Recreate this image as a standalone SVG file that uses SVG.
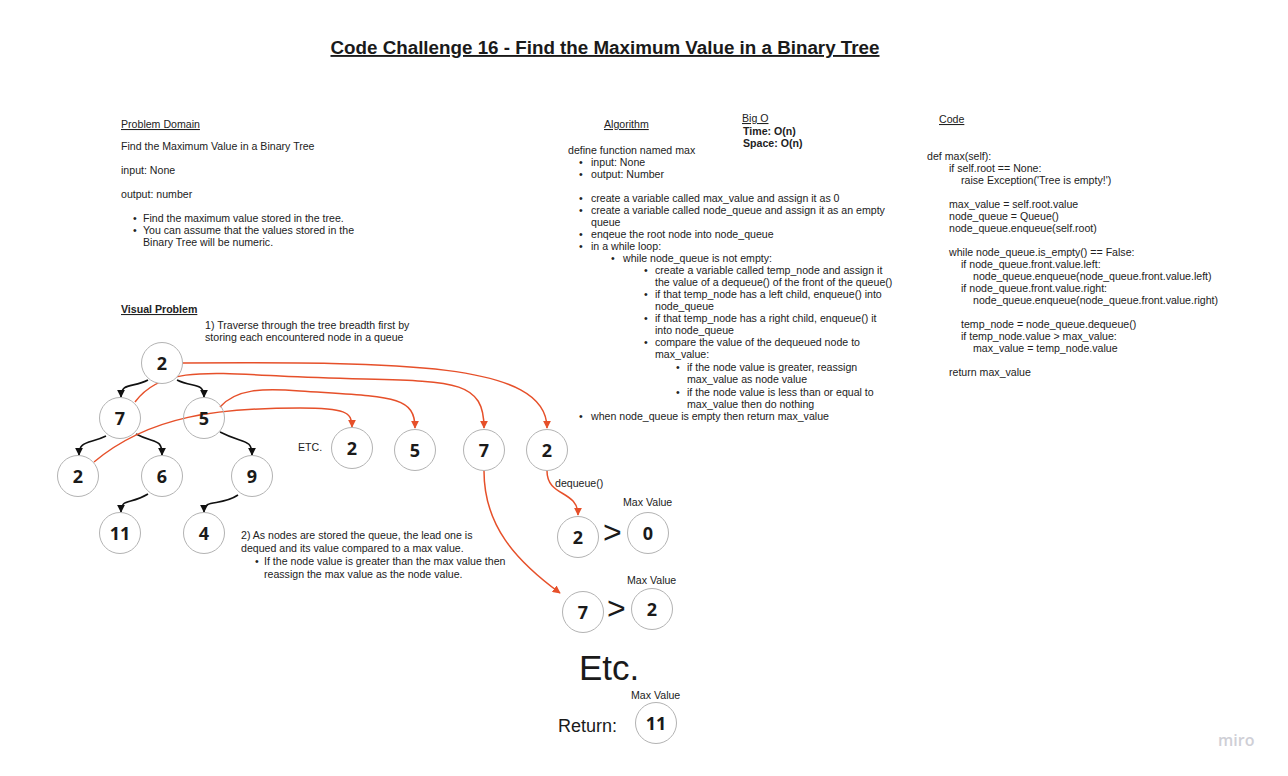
<svg xmlns="http://www.w3.org/2000/svg" width="1288" height="776" viewBox="0 0 1288 776">
<style>
  .t { font-family: "Liberation Sans", Arial, sans-serif; font-size: 10.6px; fill: #222; }
  .h { text-decoration: underline; }
  .b { font-weight: bold; }
  .title { font-family: "Liberation Sans", Arial, sans-serif; font-size: 18.8px; font-weight: bold; fill: #1a1a1a; text-decoration: underline; }
  .nc { fill: #fff; stroke: #b3b3b3; stroke-width: 1; }
  .nt { font-family: "Open Sans", "DejaVu Sans", sans-serif; font-size: 18px; font-weight: bold; fill: #1a1a1a; text-anchor: middle; }
  .red { fill: none; stroke: #e6502a; stroke-width: 1.5; marker-end: url(#ar); }
  .blk { fill: none; stroke: #111; stroke-width: 1.6; marker-end: url(#ab); }
  .big { font-family: "Liberation Sans", Arial, sans-serif; fill: #1a1a1a; }
</style>
<defs>
  <marker id="ar" viewBox="0 0 10 10" refX="9" refY="5" markerWidth="8" markerHeight="8" markerUnits="userSpaceOnUse" orient="auto">
    <path d="M0,0 L10,5 L0,10 z" fill="#e6502a"/>
  </marker>
  <marker id="ab" viewBox="0 0 10 10" refX="9" refY="5" markerWidth="8" markerHeight="8" markerUnits="userSpaceOnUse" orient="auto">
    <path d="M0,0 L10,5 L0,10 z" fill="#111"/>
  </marker>
</defs>
<rect width="1288" height="776" fill="#fff"/>

<text class="title" x="605" y="54" text-anchor="middle">Code Challenge 16 - Find the Maximum Value in a Binary Tree</text>

<g id="problem-domain">
  <text class="t h" x="121" y="128">Problem Domain</text>
  <text class="t" x="121" y="150">Find the Maximum Value in a Binary Tree</text>
  <text class="t" x="121" y="174">input: None</text>
  <text class="t" x="121" y="198">output: number</text>
  <text class="t" x="133" y="222">•</text>
  <text class="t" x="143" y="222">Find the maximum value stored in the tree.</text>
  <text class="t" x="133" y="234">•</text>
  <text class="t" x="143" y="234">You can assume that the values stored in the</text>
  <text class="t" x="143" y="246">Binary Tree will be numeric.</text>
</g>

<g id="algorithm">
  <text class="t h" x="604" y="128">Algorithm</text>
  <text class="t" x="568" y="154">define function named max</text>
  <text class="t" x="579" y="166">•</text><text class="t" x="591" y="166">input: None</text>
  <text class="t" x="579" y="178">•</text><text class="t" x="591" y="178">output: Number</text>
  <text class="t" x="579" y="202">•</text><text class="t" x="591" y="202">create a variable called max_value and assign it as 0</text>
  <text class="t" x="579" y="214">•</text><text class="t" x="591" y="214">create a variable called node_queue and assign it as an empty</text>
  <text class="t" x="591" y="226">queue</text>
  <text class="t" x="579" y="238">•</text><text class="t" x="591" y="238">enqeue the root node into node_queue</text>
  <text class="t" x="579" y="250">•</text><text class="t" x="591" y="250">in a while loop:</text>
  <text class="t" x="611" y="262">•</text><text class="t" x="623" y="262">while node_queue is not empty:</text>
  <text class="t" x="644" y="274">•</text><text class="t" x="655" y="274">create a variable called temp_node and assign it</text>
  <text class="t" x="655" y="286">the value of a dequeue() of the front of the queue()</text>
  <text class="t" x="644" y="298">•</text><text class="t" x="655" y="298">if that temp_node has a left child, enqueue() into</text>
  <text class="t" x="655" y="310">node_queue</text>
  <text class="t" x="644" y="322">•</text><text class="t" x="655" y="322">if that temp_node has a right child, enqueue() it</text>
  <text class="t" x="655" y="334">into node_queue</text>
  <text class="t" x="644" y="346">•</text><text class="t" x="655" y="346">compare the value of the dequeued node to</text>
  <text class="t" x="655" y="358">max_value:</text>
  <text class="t" x="676" y="371">•</text><text class="t" x="687" y="371">if the node value is greater, reassign</text>
  <text class="t" x="687" y="383">max_value as node value</text>
  <text class="t" x="676" y="396">•</text><text class="t" x="687" y="396">if the node value is less than or equal to</text>
  <text class="t" x="687" y="408">max_value then do nothing</text>
  <text class="t" x="579" y="420">•</text><text class="t" x="591" y="420">when node_queue is empty then return max_value</text>
</g>

<g id="big-o">
  <text class="t h" x="742" y="122">Big O</text>
  <text class="t b" x="743" y="135">Time: O(n)</text>
  <text class="t b" x="743" y="147">Space: O(n)</text>
</g>

<g id="code">
  <text class="t h" x="939" y="123">Code</text>
  <text class="t" x="927" y="160">def max(self):</text>
  <text class="t" x="949" y="172">if self.root == None:</text>
  <text class="t" x="961" y="184">raise Exception('Tree is empty!')</text>
  <text class="t" x="949" y="208">max_value = self.root.value</text>
  <text class="t" x="949" y="220">node_queue = Queue()</text>
  <text class="t" x="949" y="232">node_queue.enqueue(self.root)</text>
  <text class="t" x="949" y="256">while node_queue.is_empty() == False:</text>
  <text class="t" x="961" y="268">if node_queue.front.value.left:</text>
  <text class="t" x="973" y="280">node_queue.enqueue(node_queue.front.value.left)</text>
  <text class="t" x="961" y="292">if node_queue.front.value.right:</text>
  <text class="t" x="973" y="304">node_queue.enqueue(node_queue.front.value.right)</text>
  <text class="t" x="961" y="328">temp_node = node_queue.dequeue()</text>
  <text class="t" x="961" y="340">if temp_node.value &gt; max_value:</text>
  <text class="t" x="973" y="352">max_value = temp_node.value</text>
  <text class="t" x="949" y="376">return max_value</text>
</g>

<g id="visual-problem">
  <text class="t h b" x="121" y="313">Visual Problem</text>
  <text class="t" x="205" y="329">1) Traverse through the tree breadth first by</text>
  <text class="t" x="205" y="341">storing each encountered node in a queue</text>
  <text class="t" x="298" y="451">ETC.</text>
  <text class="t" x="241" y="539">2) As nodes are stored the queue, the lead one is</text>
  <text class="t" x="241" y="552">dequed and its value compared to a max value.</text>
  <text class="t" x="255" y="565">•</text>
  <text class="t" x="264" y="565">If the node value is greater than the max value then</text>
  <text class="t" x="264" y="578">reassign the max value as the node value.</text>
  <text class="t" x="555" y="487">dequeue()</text>
</g>

<g id="connectors">
  <path class="blk" d="M148,380 C 133,388 121,382 121,397"/>
  <path class="blk" d="M177,380 C 193,388 204,382 204,397"/>
  <path class="blk" d="M106,436 C 90,444 79,440 79,455"/>
  <path class="blk" d="M136,434 C 155,444 162,438 162,455"/>
  <path class="blk" d="M220,432 C 243,444 252,438 252,455"/>
  <path class="blk" d="M148,494 C 130,505 121,498 121,512"/>
  <path class="blk" d="M238,495 C 220,507 204,498 204,512"/>
  <path class="red" d="M183,363 C 400,362 547,362 547,428"/>
  <path class="red" d="M135,402 C 160,368 205,372 280,376 C 440,384 484,370 484,428"/>
  <path class="red" d="M220,407 C 236,389 262,388 300,391 C 390,397 415,395 415,428"/>
  <path class="red" d="M94,462 C 150,415 220,408 300,408 C 345,408 352,412 352,427"/>
  <path class="red" d="M484,471 C 484,525 515,560 560,593"/>
  <path class="red" d="M547,471 C 547,497 578,490 578,515"/>
</g>

<g id="n-root"><circle class="nc" cx="162" cy="363" r="20.5"/><text class="nt" x="162" y="369.5">2</text></g>
<g id="n-7"><circle class="nc" cx="120" cy="418" r="20.5"/><text class="nt" x="120" y="424.5">7</text></g>
<g id="n-5"><circle class="nc" cx="204" cy="418" r="20.5" fill-opacity="0"/><text class="nt" x="204" y="424.5">5</text></g>
<g id="n-2b"><circle class="nc" cx="78" cy="476" r="20.5"/><text class="nt" x="78" y="482.5">2</text></g>
<g id="n-6"><circle class="nc" cx="162" cy="476" r="20.5"/><text class="nt" x="162" y="482.5">6</text></g>
<g id="n-9"><circle class="nc" cx="252" cy="476" r="20.5"/><text class="nt" x="252" y="482.5">9</text></g>
<g id="n-11"><circle class="nc" cx="120" cy="533" r="20.5"/><text class="nt" x="120" y="539.5">11</text></g>
<g id="n-4"><circle class="nc" cx="204" cy="533" r="20.5"/><text class="nt" x="204" y="539.5">4</text></g>

<g id="q-2a"><circle class="nc" cx="352" cy="448" r="20.5"/><text class="nt" x="352" y="454.5">2</text></g>
<g id="q-5"><circle class="nc" cx="415" cy="450" r="20.5"/><text class="nt" x="415" y="456.5">5</text></g>
<g id="q-7"><circle class="nc" cx="484" cy="450" r="20.5"/><text class="nt" x="484" y="456.5">7</text></g>
<g id="q-2b"><circle class="nc" cx="547" cy="450" r="20.5"/><text class="nt" x="547" y="456.5">2</text></g>

<g id="cmp-1">
  <circle class="nc" cx="578" cy="537" r="20.5"/><text class="nt" x="578" y="543.5">2</text>
  <text class="big" x="603" y="543" font-size="32">&gt;</text>
  <text class="t" x="623" y="506">Max Value</text>
  <circle class="nc" cx="648" cy="533" r="20.5"/><text class="nt" x="648" y="539.5">0</text>
</g>
<g id="cmp-2">
  <circle class="nc" cx="583" cy="612" r="20.5"/><text class="nt" x="583" y="618.5">7</text>
  <text class="big" x="607" y="619" font-size="32">&gt;</text>
  <text class="t" x="627" y="584">Max Value</text>
  <circle class="nc" cx="652" cy="609" r="20.5"/><text class="nt" x="652" y="615.5">2</text>
</g>
<g id="result">
  <text class="big" x="579" y="680" font-size="35">Etc.</text>
  <text class="t" x="631" y="699">Max Value</text>
  <text class="big" x="558" y="732" font-size="18" fill="#333">Return:</text>
  <circle class="nc" cx="656" cy="723" r="20.5"/><text class="nt" x="656" y="729.5">11</text>
</g>
<text x="1218" y="746" font-family="'Open Sans', 'DejaVu Sans', sans-serif" font-size="16" font-weight="600" fill="#cfcfd6">miro</text>
</svg>
